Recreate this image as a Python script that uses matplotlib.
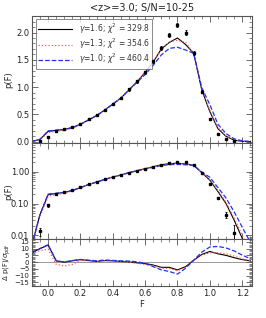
import matplotlib
matplotlib.use("Agg")
import matplotlib.pyplot as plt
import numpy as np
from matplotlib.ticker import MultipleLocator, FixedLocator, NullFormatter

# observed pdf
F_obs = [-0.05, 0.0, 0.05, 0.10, 0.15, 0.20, 0.25, 0.30, 0.35, 0.40, 0.45, 0.50,
         0.55, 0.60, 0.65, 0.70, 0.75, 0.80, 0.85, 0.90, 0.95, 1.00, 1.05, 1.10, 1.15]
p_obs = [0.0135, 0.09, 0.196, 0.23, 0.275, 0.325, 0.41, 0.49, 0.58, 0.69, 0.80, 0.96,
         1.11, 1.27, 1.47, 1.72, 1.96, 2.14, 2.00, 1.62, 0.92, 0.42, 0.15, 0.045, 0.012]
p_err = [0.004, 0.01, 0.012, 0.012, 0.013, 0.014, 0.015, 0.017, 0.019, 0.02, 0.022, 0.024,
         0.026, 0.028, 0.03, 0.033, 0.036, 0.04, 0.038, 0.034, 0.025, 0.02, 0.012, 0.01, 0.009]

# models
F_mod = [-0.10, -0.05, 0.0, 0.05, 0.10, 0.15, 0.20, 0.25, 0.30, 0.35, 0.40, 0.45, 0.50,
         0.55, 0.60, 0.65, 0.70, 0.75, 0.80, 0.85, 0.90, 0.95, 1.00, 1.05, 1.10, 1.15,
         1.20, 1.25]
p_g16 = [0.005, 0.045, 0.19, 0.21, 0.225, 0.26, 0.32, 0.40, 0.48, 0.58, 0.69, 0.80, 0.95,
         1.10, 1.27, 1.46, 1.70, 1.82, 1.90, 1.78, 1.62, 0.95, 0.55, 0.24, 0.10, 0.03,
         0.008, 0.002]
p_g13 = [0.005, 0.04, 0.17, 0.19, 0.21, 0.25, 0.315, 0.40, 0.48, 0.58, 0.69, 0.80, 0.95,
         1.10, 1.27, 1.46, 1.68, 1.83, 1.86, 1.82, 1.62, 0.97, 0.57, 0.26, 0.11, 0.035,
         0.010, 0.003]
p_g10 = [0.005, 0.045, 0.20, 0.21, 0.225, 0.26, 0.32, 0.40, 0.48, 0.58, 0.69, 0.80, 0.95,
         1.09, 1.23, 1.40, 1.59, 1.71, 1.73, 1.68, 1.62, 0.99, 0.68, 0.32, 0.15, 0.055,
         0.018, 0.006]

# residuals (data - model)/sigma
r_g16 = [7.0, 10.0, 12.6, 1.0, 0.0, 1.0, 1.9, 1.2, 0.5, 1.2, 1.0, 0.5, 0.2, -0.5, -1.0,
         -2.1, -3.8, -3.8, -5.7, -3.3, 1.4, 5.7, 7.9, 6.2, 5.0, 3.3, 1.9, 1.0]
r_g13 = [6.5, 8.5, 9.6, -1.6, -2.8, -1.7, 1.3, 1.0, 0.3, 1.0, 0.8, 0.3, 0.0, -0.8, -1.7,
         -2.6, -4.5, -4.6, -6.4, -3.8, 1.2, 5.0, 6.9, 6.9, 6.2, 4.5, 2.4, 1.2]
r_g10 = [6.5, 10.0, 12.9, 1.0, 0.2, 1.2, 2.0, 1.5, 1.0, 1.6, 1.3, 1.0, 0.8, 0.3, -1.0,
         -3.3, -5.7, -6.9, -8.8, -4.5, 1.4, 7.4, 11.2, 11.6, 10.5, 8.3, 5.2, 2.6]

labels = [r"$\gamma$=1.6; $\chi^2$ = 329.8",
          r"$\gamma$=1.3; $\chi^2$ = 354.6",
          r"$\gamma$=1.0; $\chi^2$ = 460.4"]

plt.rcParams['font.family'] = ['DejaVu Sans']
plt.rcParams['font.size'] = 6
plt.rcParams['mathtext.fontset'] = 'dejavusans'
gray = '#555555'
plt.rcParams['axes.edgecolor'] = gray
plt.rcParams['xtick.color'] = gray
plt.rcParams['ytick.color'] = gray
plt.rcParams['xtick.labelcolor'] = '#222222'
plt.rcParams['ytick.labelcolor'] = '#222222'
plt.rcParams['axes.linewidth'] = 0.8

fig = plt.figure(figsize=(2.66, 3.18), dpi=100)
L, W = 0.120, 0.827
ax1 = fig.add_axes([L, 0.549, W, 0.402])
ax2 = fig.add_axes([L, 0.248, W, 0.301])
ax3 = fig.add_axes([L, 0.101, W, 0.147])

styles = [dict(color='black', ls='-', lw=0.8),
          dict(color='#ff5555', ls=':', lw=0.9),
          dict(color='#2233ee', ls='--', lw=0.9)]
models = [p_g16, p_g13, p_g10]
resids = [r_g16, r_g13, r_g10]

for ax in (ax1, ax2):
    for m, st, lab in zip(models, styles, labels):
        ax.plot(F_mod, m, label=lab, **st)
    ax.errorbar(F_obs, p_obs, yerr=p_err, fmt='s', color='black', ms=1.6,
                elinewidth=0.6, capsize=0.8, capthick=0.6, zorder=5)

for r, st in zip(resids, styles):
    ax3.plot(F_mod, r, **st)
ax3.axhline(0, color='#999999', lw=0.7, zorder=0)

ax1.set_ylim(-0.03, 2.31)
ax1.yaxis.set_major_locator(MultipleLocator(0.5))
ax1.yaxis.set_minor_locator(MultipleLocator(0.1))
ax1.set_ylabel('p(F)', color='#222222')
ax1.set_title('<z>=3.0; S/N=10-25', fontsize=7, color='#222222', pad=3)
leg = ax1.legend(loc='upper left', fontsize=5.5, frameon=True, fancybox=False,
                 edgecolor=gray, handlelength=4.5, borderaxespad=0.5,
                 labelspacing=0.1, borderpad=0.3)
leg.get_frame().set_linewidth(0.6)
for t in leg.get_texts():
    t.set_color('#333333')

ax2.set_yscale('log')
ax2.set_ylim(0.0075, 8)
ax2.yaxis.set_major_locator(FixedLocator([0.01, 0.1, 1.0]))
ax2.set_yticklabels(['0.01', '0.10', '1.00'])
ax2.yaxis.set_minor_formatter(NullFormatter())
ax2.set_ylabel('p(F)', color='#222222')

ax3.set_ylim(-17.5, 17)
ax3.yaxis.set_major_locator(MultipleLocator(5))
ax3.yaxis.set_minor_locator(MultipleLocator(1))
ax3.tick_params(axis='y', labelsize=5)
ax3.set_ylabel(r'$\Delta$ p(F)/$\sigma_{\rm pdf}$', color='#222222', fontsize=5)
ax3.set_xlabel('F', color='#222222', labelpad=2)

for ax in (ax1, ax2, ax3):
    ax.set_xlim(-0.1, 1.26)
    ax.xaxis.set_major_locator(MultipleLocator(0.2))
    ax.xaxis.set_minor_locator(MultipleLocator(0.05))
    ax.tick_params(which='both', direction='in', top=True, right=True, pad=2)
    ax.tick_params(which='major', length=4, width=0.6)
    ax.tick_params(which='minor', length=2, width=0.5)
    ax.yaxis.set_label_coords(-0.085, 0.5)
    if ax is not ax3:
        ax.set_xticklabels([])

fig.savefig('out.png', dpi=100)
